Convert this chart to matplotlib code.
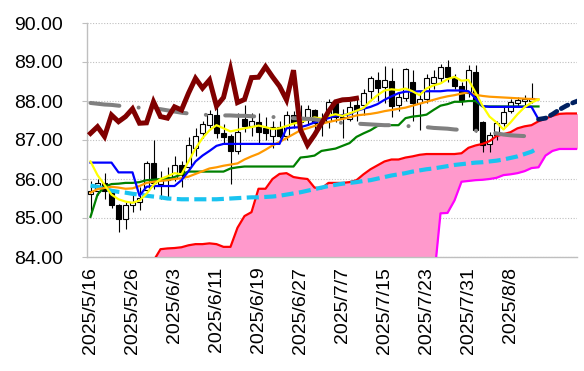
import numpy as np
import matplotlib
matplotlib.use("Agg")
import matplotlib.pyplot as plt

plt.rcParams['font.family'] = ['Liberation Sans', 'DejaVu Sans']

# ---------------- data ----------------
tick_labels = ["2025/5/16", "2025/5/26", "2025/6/3", "2025/6/11", "2025/6/19", "2025/6/27",
               "2025/7/7", "2025/7/15", "2025/7/23", "2025/7/31", "2025/8/8"]
tick_index = [0, 6, 12, 18, 24, 30, 36, 42, 48, 54, 60]
n_categories = 70

opens = [85.62, 85.68, 85.89, 85.68, 85.33, 84.97, 85.33, 85.42, 85.72, 86.42,
         85.88, 85.98, 86.02, 86.36, 86.30, 86.80, 87.17, 87.38, 87.64, 87.17,
         87.10, 86.72, 87.55, 87.35, 87.47, 87.30, 87.10, 87.34, 87.10, 87.64,
         87.47, 87.60, 87.77, 87.45, 87.50, 87.95, 87.60, 87.55, 87.90, 87.90,
         88.25, 88.55, 88.35, 88.50, 87.90, 88.07, 88.50, 87.96, 88.05, 88.45,
         88.60, 88.88, 88.60, 88.38, 88.20, 88.75, 87.45, 86.90, 87.13, 87.43,
         87.75, 87.95, 88.00, 88.00]
highs = [85.95, 86.00, 86.15, 85.72, 85.36, 85.40, 85.65, 85.80, 86.45, 87.00,
         86.20, 86.30, 86.60, 86.45, 87.08, 87.30, 87.50, 87.77, 87.85, 87.40,
         87.15, 87.68, 87.90, 87.70, 87.70, 87.60, 87.50, 87.50, 87.75, 87.75,
         87.90, 87.90, 87.80, 87.70, 88.05, 88.00, 87.80, 88.00, 88.10, 88.30,
         88.65, 88.75, 88.90, 88.85, 88.20, 88.85, 88.80, 88.25, 88.70, 88.80,
         88.95, 89.05, 88.70, 88.50, 88.92, 88.92, 87.50, 87.20, 87.50, 87.85,
         88.05, 88.10, 88.15, 88.45]
lows = [85.08, 85.60, 85.50, 85.25, 84.65, 84.73, 85.15, 85.20, 85.65, 85.75,
        85.50, 85.55, 85.95, 85.80, 86.25, 86.60, 87.05, 87.30, 87.05, 86.90,
        85.86, 86.65, 87.20, 87.10, 86.90, 87.00, 86.80, 87.04, 87.00, 87.30,
        87.35, 87.40, 87.20, 87.10, 87.30, 87.45, 87.04, 87.50, 87.50, 87.65,
        88.05, 88.00, 87.95, 87.60, 87.75, 88.00, 87.50, 87.25, 87.95, 88.30,
        88.45, 88.50, 88.30, 87.90, 88.10, 87.20, 86.70, 86.70, 87.00, 87.35,
        87.70, 87.85, 87.90, 87.95]
closes = [85.70, 85.89, 85.68, 85.33, 84.97, 85.33, 85.42, 85.50, 86.42, 85.90,
          85.98, 86.05, 86.36, 86.10, 86.87, 87.10, 87.40, 87.66, 87.17, 87.08,
          86.72, 87.20, 87.35, 87.50, 87.20, 87.17, 87.34, 87.09, 87.64, 87.47,
          87.60, 87.80, 87.43, 87.44, 87.98, 87.60, 87.56, 87.85, 87.77, 88.20,
          88.58, 88.33, 88.54, 87.87, 88.09, 88.81, 87.96, 88.04, 88.60, 88.61,
          88.88, 88.62, 88.38, 88.03, 88.79, 87.26, 86.87, 87.13, 87.43, 87.73,
          87.98, 88.03, 88.04, 88.07]

chikou = [87.17, 87.34, 87.09, 87.64, 87.47, 87.60, 87.80, 87.43, 87.44, 87.98,
          87.60, 87.56, 87.85, 87.77, 88.20, 88.58, 88.33, 88.54, 87.87, 88.09,
          88.81, 87.96, 88.04, 88.60, 88.61, 88.88, 88.62, 88.38, 88.03, 88.79,
          87.26, 86.87, 87.13, 87.43, 87.73, 87.98, 88.03, 88.04, 88.07]

ma_short = [86.45, 86.10, 85.85, 85.60, 85.48, 85.42, 85.39, 85.45, 85.62, 85.85,
            86.00, 86.07, 86.15, 86.12, 86.45, 86.78, 87.05, 87.25, 87.38, 87.30,
            87.22, 87.26, 87.30, 87.33, 87.37, 87.33, 87.28, 87.30, 87.36, 87.42,
            87.46, 87.52, 87.58, 87.55, 87.62, 87.66, 87.62, 87.68, 87.75, 87.82,
            88.00, 88.15, 88.27, 88.30, 88.28, 88.32, 88.25, 88.15, 88.32, 88.40,
            88.45, 88.56, 88.62, 88.52, 88.54, 88.22, 87.88, 87.60, 87.45, 87.27,
            87.45, 87.66, 87.84, 87.96, 88.04]

tenkan = [86.42, 86.42, 86.42, 86.42, 86.17, 86.17, 86.17, 85.57, 85.80, 85.82,
          85.82, 85.82, 85.82, 85.97, 86.20, 86.45, 86.60, 86.72, 86.85, 86.90,
          86.90, 86.90, 86.90, 86.90, 86.90, 86.90, 86.90, 86.90, 87.30, 87.32,
          87.33, 87.38, 87.45, 87.50, 87.56, 87.62, 87.64, 87.66, 87.75, 87.80,
          87.85, 87.92, 88.03, 88.12, 88.20, 88.24, 88.24, 88.25, 88.25, 88.25,
          88.25, 88.27, 88.27, 88.27, 88.25, 88.07, 87.87, 87.85, 87.85, 87.85,
          87.85, 87.85, 87.85, 87.85, 87.53]

kijun = [85.03, 85.60, 85.80, 85.87, 85.88, 85.90, 85.90, 85.92, 85.97, 85.98,
         86.00, 86.00, 86.05, 86.12, 86.19, 86.19, 86.19, 86.19, 86.19, 86.19,
         86.27, 86.30, 86.32, 86.32, 86.32, 86.32, 86.32, 86.32, 86.32, 86.32,
         86.55, 86.57, 86.60, 86.72, 86.75, 86.78, 86.85, 86.92, 87.08, 87.17,
         87.25, 87.36, 87.38, 87.38, 87.38, 87.56, 87.60, 87.62, 87.65, 87.77,
         87.88, 87.92, 87.98, 87.98, 88.00, 88.00, 87.86, 87.86, 87.86, 87.86,
         87.86, 87.86, 87.86, 87.86, 87.86]

ma_mid = [85.65, 85.74, 85.77, 85.80, 85.78, 85.75, 85.76, 85.82, 85.90, 85.93,
          85.95, 85.97, 86.00, 86.02, 86.06, 86.13, 86.20, 86.27, 86.30, 86.34,
          86.37, 86.40, 86.50, 86.58, 86.65, 86.75, 86.86, 86.95, 87.05, 87.15,
          87.25, 87.30, 87.36, 87.42, 87.46, 87.50, 87.54, 87.58, 87.63, 87.65,
          87.67, 87.70, 87.74, 87.77, 87.80, 87.83, 87.88, 87.93, 87.98, 88.03,
          88.08, 88.12, 88.15, 88.19, 88.22, 88.16, 88.13, 88.11, 88.10, 88.09,
          88.08, 88.07, 88.06, 88.05, 88.04]

ma_long = [85.83, 85.80, 85.75, 85.70, 85.67, 85.65, 85.62, 85.60, 85.57, 85.55,
           85.53, 85.50, 85.49, 85.48, 85.48, 85.48, 85.48, 85.48, 85.48, 85.49,
           85.50, 85.51, 85.52, 85.53, 85.53, 85.54, 85.55, 85.57, 85.60, 85.63,
           85.66, 85.70, 85.74, 85.78, 85.82, 85.85, 85.88, 85.90, 85.92, 85.95,
           85.97, 86.01, 86.05, 86.09, 86.12, 86.15, 86.19, 86.22, 86.25, 86.27,
           86.30, 86.33, 86.36, 86.38, 86.40, 86.42, 86.43, 86.45, 86.47, 86.50,
           86.54, 86.58, 86.64, 86.70, 86.80]

ma_gray = [87.95, 87.93, 87.91, 87.90, 87.88, 87.86, 87.84, 87.83, 87.82, 87.81,
           87.79, 87.76, 87.73, 87.70, 87.68, 87.66, 87.65, 87.64, 87.63, 87.63,
           87.63, 87.62, 87.62, 87.61, 87.60, 87.60, 87.59, 87.58, 87.57, 87.56,
           87.55, 87.54, 87.53, 87.50, 87.47, 87.45, 87.44, 87.43, 87.42, 87.41,
           87.40, 87.39, 87.38, 87.38, 87.37, 87.36, 87.35, 87.34, 87.33, 87.31,
           87.30, 87.29, 87.27, 87.26, 87.25, 87.24, 87.22, 87.20, 87.17, 87.14,
           87.12, 87.11, 87.10]

forecast_start = 64
forecast = [87.53, 87.56, 87.66, 87.78, 87.88, 87.96, 88.03]

span_a_start = 9
span_a = [83.90, 84.20, 84.22, 84.23, 84.25, 84.30, 84.33, 84.33, 84.35, 84.33,
          84.26, 84.26, 84.75, 85.05, 85.15, 85.75, 85.75, 86.00, 86.13, 86.15,
          86.05, 86.02, 86.00, 85.78, 85.76, 85.90, 85.90, 85.90, 85.92, 85.97,
          86.12, 86.25, 86.35, 86.45, 86.50, 86.50, 86.55, 86.58, 86.62, 86.64,
          86.64, 86.64, 86.64, 86.64, 86.66, 86.80, 86.86, 86.90, 86.97, 87.10,
          87.15, 87.20, 87.30, 87.35, 87.38, 87.48, 87.55, 87.62, 87.67, 87.68,
          87.68, 87.68]

span_b_start = 49
span_b = [83.30, 85.12, 85.13, 85.45, 85.93, 85.95, 85.97, 85.98, 86.00, 86.03,
          86.10, 86.12, 86.15, 86.20, 86.28, 86.30, 86.60, 86.72, 86.77, 86.77,
          86.77, 86.77]

# ---------------- figure ----------------
W, H = 584, 371
fig = plt.figure(figsize=(W / 100, H / 100), dpi=100)
ax = fig.add_axes([87 / W, 1 - 257 / H, 490 / W, 234 / H])
ymin, ymax = 84, 90
ax.set_xlim(-0.5, n_categories - 0.5)
ax.set_ylim(ymin, ymax)

# cloud
xa = np.arange(span_a_start, span_a_start + len(span_a))
xb = np.arange(span_b_start, span_b_start + len(span_b))
a_arr = np.array(span_a)
b_full = np.full(len(xa), np.nan)
b_full[span_b_start - span_a_start:] = span_b[:len(xa) - (span_b_start - span_a_start)]
lower = np.where(np.isnan(b_full), ymin - 1, b_full)
ax.fill_between(xa, lower, a_arr, color='#FF99CC', lw=0, zorder=1)

# grid
for v in range(ymin, ymax + 1):
    ax.axhline(v, color='#BFBFBF', lw=0.8, ls=(0, (1, 1.5)), zorder=0.5)

# candles
xc = np.arange(len(closes))
o = np.array(opens); c = np.array(closes)
ax.vlines(xc, lows, highs, color='black', lw=0.8, zorder=2)
bottoms = np.minimum(o, c)
heights = np.maximum(np.abs(c - o), 0.012)
cols = ['white' if cc >= oo else 'black' for oo, cc in zip(o, c)]
ax.bar(xc, heights, bottom=bottoms, width=0.78, color=cols, edgecolor='black',
       linewidth=0.8, zorder=3)

# lines
ax.plot(xa, a_arr, color='#FF0000', lw=1.6, zorder=4, solid_capstyle='round')
ax.plot(xb, span_b, color='#FF00FF', lw=1.6, zorder=4, solid_capstyle='round')
ax.plot(np.arange(len(ma_long)), ma_long, color='#19C3F0', lw=3.0,
        ls=(0, (2.9, 1.3)), zorder=4)
ax.plot(np.arange(len(kijun)), kijun, color='#008000', lw=1.6, zorder=5)
ax.plot(np.arange(len(ma_mid)), ma_mid, color='#FF9900', lw=1.6, zorder=5)
ax.plot(np.arange(len(tenkan)), tenkan, color='#0000FF', lw=1.6, zorder=5)
ax.plot(np.arange(len(ma_short)), ma_short, color='#FFFF00', lw=1.6, zorder=6)
ln, = ax.plot(np.arange(len(ma_gray)), ma_gray, color='#808080', lw=2.9,
              ls=(0, (7.2, 4.8, 0.01, 4.8)), zorder=6)
ln.set_dash_capstyle('round')
ln2, = ax.plot(np.arange(forecast_start, forecast_start + len(forecast)), forecast,
               color='#002060', lw=3.4, ls=(0, (1.6, 1.1)), zorder=6)
ln2.set_dash_capstyle('round')
ax.plot(np.arange(len(chikou)), chikou, color='#800000', lw=3.6, zorder=7,
        solid_joinstyle='miter')

# axes styling
for s in ['top', 'right']:
    ax.spines[s].set_visible(False)
for s in ['left', 'bottom']:
    ax.spines[s].set_color('#BFBFBF')
    ax.spines[s].set_linewidth(1.0)
ax.spines['left'].set_zorder(0.6)

ax.set_yticks(range(ymin, ymax + 1))
ax.set_yticklabels([f"{v:.2f}" for v in range(ymin, ymax + 1)], fontsize=14)
ax.tick_params(axis='y', length=3.6, color='#BFBFBF', pad=13.5)
ax.set_xticks(tick_index)
ax.set_xticklabels(tick_labels, rotation=90, fontsize=14, va='top', ha='center')
ax.tick_params(axis='x', length=0, pad=7)

fig.savefig('out.png', dpi=100)
